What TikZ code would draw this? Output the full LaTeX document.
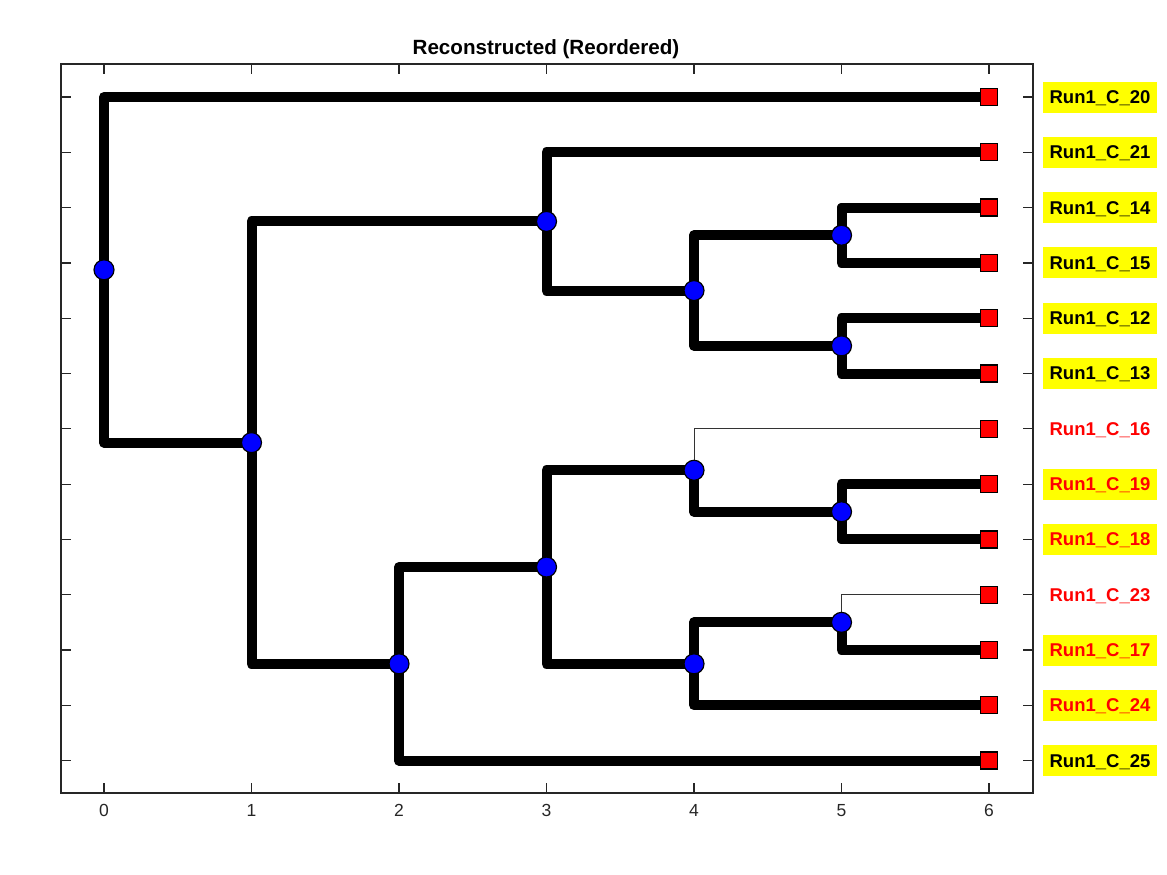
\documentclass[tikz,border=0pt]{standalone}
\usepackage{fontspec}
\setmainfont{Liberation Sans}
\definecolor{axisgray}{HTML}{262626}
\definecolor{pureblue}{RGB}{0,0,255}
\definecolor{purered}{RGB}{255,0,0}
\definecolor{pureyellow}{RGB}{255,255,0}
\tikzset{
  axisline/.style={draw=axisgray, line width=1.2pt},
  thickedge/.style={draw=black, line width=10pt, line join=round, line cap=round},
  thinedge/.style={draw=black!80, line width=1pt},
  inner/.style={circle, fill=pureblue, draw=black, line width=1.2pt, minimum size=20pt, inner sep=0pt},
  leaf/.style={rectangle, fill=purered, draw=black, line width=1.3pt, minimum size=17pt, inner sep=0pt},
  lblbase/.style={font=\bfseries\fontsize{18.5}{20}\selectfont, minimum width=114pt, minimum height=31pt, inner sep=0pt, text depth=0pt},
  lblk/.style={lblbase, fill=pureyellow, text=black},
  lred/.style={lblbase, fill=pureyellow, text=purered},
  lredplain/.style={lblbase, text=purered},
  ticklbl/.style={font=\fontsize{17.5}{19}\selectfont, text=axisgray, anchor=base, inner sep=0pt},
  titlelbl/.style={font=\bfseries\fontsize{20.6}{22}\selectfont, anchor=base, inner sep=0pt}
}
\begin{document}
\begin{tikzpicture}[x=1pt, y=-1pt]
\useasboundingbox (0,0) rectangle (1167,875);
% title
\node[titlelbl] (title) at (546,55) {Reconstructed (Reordered)};
% axes box
\draw[axisline] (61,64) rectangle (1033,793);
\foreach \r in {0,...,12} {
  \draw[axisline] (61,{97+55.3*\r}) -- ++(10,0);
  \draw[axisline] (1033,{97+55.3*\r}) -- ++(-10,0);
}
\foreach \i in {0,...,6} {
  \draw[axisline] ({104+147.5*\i},793) -- ++(0,-10);
  \draw[axisline] ({104+147.5*\i},64) -- ++(0,10);
  \node[ticklbl] (tick\i) at ({104+147.5*\i},816.5) {\i};
}
\begin{scope}[xshift=104pt, yshift=-97pt, x=147.5pt, y=-55.3pt]
  % internal node positions
  \coordinate (root) at (0,3.125);
  \coordinate (A) at (1,6.25);
  \coordinate (B) at (3,2.25);
  \coordinate (D) at (4,3.5);
  \coordinate (E) at (5,2.5);
  \coordinate (F) at (5,4.5);
  \coordinate (C) at (2,10.25);
  \coordinate (G) at (3,8.5);
  \coordinate (H) at (4,6.75);
  \coordinate (J) at (5,7.5);
  \coordinate (I) at (4,10.25);
  \coordinate (K) at (5,9.5);
  % leaves
  \coordinate (L20) at (6,0);
  \coordinate (L21) at (6,1);
  \coordinate (L14) at (6,2);
  \coordinate (L15) at (6,3);
  \coordinate (L12) at (6,4);
  \coordinate (L13) at (6,5);
  \coordinate (L16) at (6,6);
  \coordinate (L19) at (6,7);
  \coordinate (L18) at (6,8);
  \coordinate (L23) at (6,9);
  \coordinate (L17) at (6,10);
  \coordinate (L24) at (6,11);
  \coordinate (L25) at (6,12);
  % thin edges
  \draw[thinedge] (H) |- (L16);
  \draw[thinedge] (K) |- (L23);
  % thick edges
  \foreach \p/\c in {root/L20, root/A, A/B, A/C, B/L21, B/D, D/E, D/F, E/L14, E/L15, F/L12, F/L13, C/G, C/L25, G/H, G/I, H/J, J/L19, J/L18, I/K, I/L24, K/L17}
    \draw[thickedge] (\p) |- (\c);
  % markers
  \foreach \n in {root, A, B, C, D, E, F, G, H, I, J, K}
    \node[inner] (n\n) at (\n) {};
  \foreach \n in {20,21,14,15,12,13,16,19,18,23,17,24,25}
    \node[leaf] (nL\n) at (L\n) {};
  % labels
  \node[lblk] (t20) at ([xshift=111pt]nL20.center) {Run1\_C\_20};
  \node[lblk] (t21) at ([xshift=111pt]nL21.center) {Run1\_C\_21};
  \node[lblk] (t14) at ([xshift=111pt]nL14.center) {Run1\_C\_14};
  \node[lblk] (t15) at ([xshift=111pt]nL15.center) {Run1\_C\_15};
  \node[lblk] (t12) at ([xshift=111pt]nL12.center) {Run1\_C\_12};
  \node[lblk] (t13) at ([xshift=111pt]nL13.center) {Run1\_C\_13};
  \node[lredplain] (t16) at ([xshift=111pt]nL16.center) {Run1\_C\_16};
  \node[lred] (t19) at ([xshift=111pt]nL19.center) {Run1\_C\_19};
  \node[lred] (t18) at ([xshift=111pt]nL18.center) {Run1\_C\_18};
  \node[lredplain] (t23) at ([xshift=111pt]nL23.center) {Run1\_C\_23};
  \node[lred] (t17) at ([xshift=111pt]nL17.center) {Run1\_C\_17};
  \node[lred] (t24) at ([xshift=111pt]nL24.center) {Run1\_C\_24};
  \node[lblk] (t25) at ([xshift=111pt]nL25.center) {Run1\_C\_25};
\end{scope}
\end{tikzpicture}
\end{document}
